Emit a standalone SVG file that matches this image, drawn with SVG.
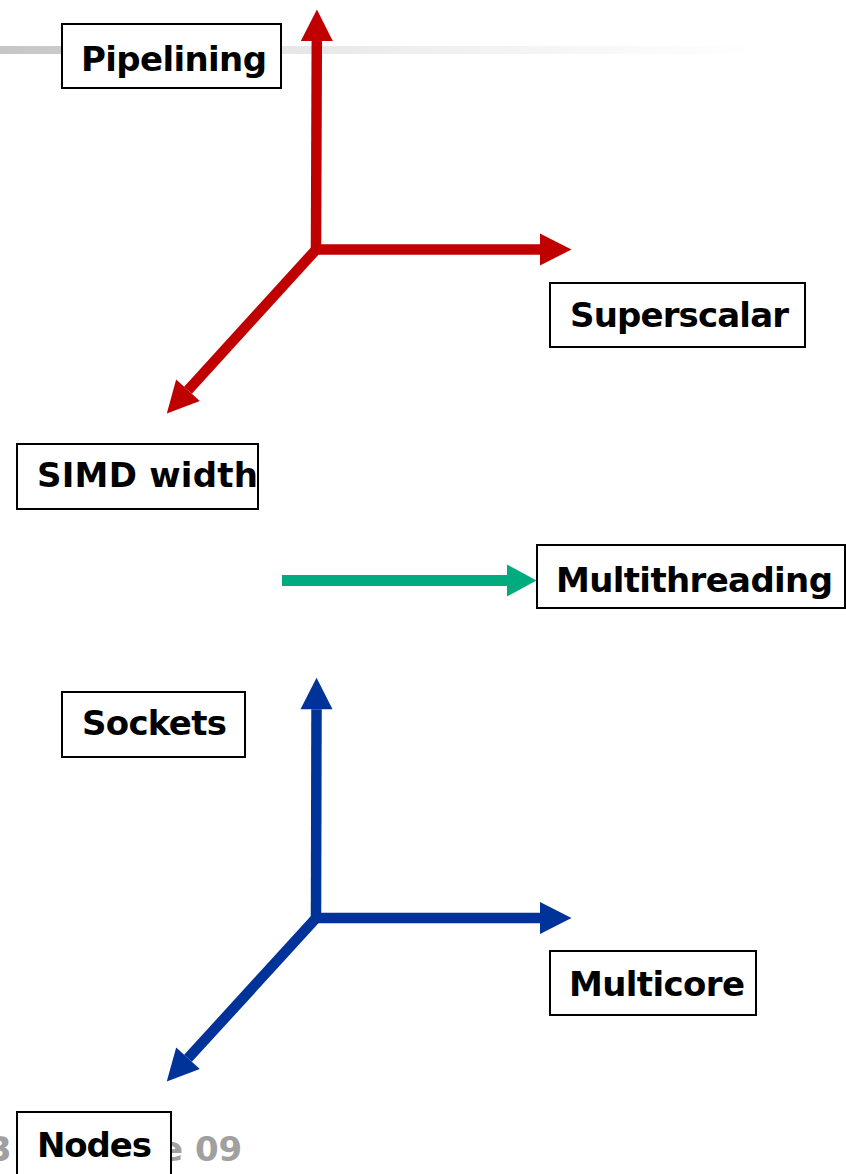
<svg xmlns="http://www.w3.org/2000/svg" width="846" height="1174" viewBox="0 0 846 1174">
<style>
.box{fill:#ffffff;stroke:#000000;stroke-width:2}
.lbl{font-family:"DejaVu Sans","Verdana",sans-serif;font-weight:bold;font-size:34px;fill:#000000}
.foot{font-family:"DejaVu Sans","Verdana",sans-serif;font-weight:bold;font-size:34px;fill:#a0a0a0}
.red{stroke:#c00000;stroke-width:10.5;fill:none;stroke-linejoin:miter}
.blue{stroke:#003399;stroke-width:10.5;fill:none;stroke-linejoin:miter}
.green{stroke:#00ac7f;stroke-width:11;fill:none}
</style>
<defs>
<linearGradient id="grayline" x1="0" y1="0" x2="760" y2="0" gradientUnits="userSpaceOnUse">
<stop offset="0" stop-color="#c6c6c6"/>
<stop offset="0.1" stop-color="#cbcbcb"/>
<stop offset="0.37" stop-color="#e6e6e6"/>
<stop offset="0.53" stop-color="#eeeeee"/>
<stop offset="0.8" stop-color="#f8f8f8"/>
<stop offset="1" stop-color="#ffffff"/>
</linearGradient>
<marker id="hRed" markerUnits="userSpaceOnUse" markerWidth="32" markerHeight="33" refX="0" refY="16" orient="auto" overflow="visible">
<path d="M0,0 L31.5,16 L0,32 z" fill="#c00000"/>
</marker>
<marker id="hBlue" markerUnits="userSpaceOnUse" markerWidth="32" markerHeight="33" refX="0" refY="16" orient="auto" overflow="visible">
<path d="M0,0 L31.5,16 L0,32 z" fill="#003399"/>
</marker>
<marker id="hGreen" markerUnits="userSpaceOnUse" markerWidth="32" markerHeight="33" refX="0" refY="16" orient="auto" overflow="visible">
<path d="M0,0 L29.5,16 L0,32 z" fill="#00ac7f"/>
</marker>
</defs>
<rect x="0" y="46" width="760" height="8" fill="url(#grayline)"/>
<text class="foot" x="-12" y="1161">3</text>
<text class="foot" x="160" y="1161">e 09</text>
<g id="connectors">
<path class="red" d="M316,249 L316.8,41" marker-end="url(#hRed)"/>
<path class="red" d="M311,249.5 L540,249.5" marker-end="url(#hRed)"/>
<path class="red" d="M318,247.5 L188,390.2" marker-end="url(#hRed)"/>
<path class="blue" d="M316,917.5 L316.5,709.3" marker-end="url(#hBlue)"/>
<path class="blue" d="M311,918 L540,918" marker-end="url(#hBlue)"/>
<path class="blue" d="M318,916 L188,1058.3" marker-end="url(#hBlue)"/>
<path class="green" d="M282,580.5 L507,580.5" marker-end="url(#hGreen)"/>
</g>
<g id="pipelining">
<rect class="box" x="62" y="24" width="219" height="64"/>
<text class="lbl" x="81" y="71" textLength="186" lengthAdjust="spacing">Pipelining</text>
</g>
<g id="superscalar">
<rect class="box" x="550" y="283" width="255" height="64"/>
<text class="lbl" x="570" y="327" textLength="219" lengthAdjust="spacing">Superscalar</text>
</g>
<g id="simd-width">
<rect class="box" x="17" y="444" width="241" height="65"/>
<text class="lbl" x="37" y="487" textLength="221" lengthAdjust="spacing">SIMD width</text>
</g>
<g id="multithreading">
<rect class="box" x="537" y="545" width="308" height="63"/>
<text class="lbl" x="556" y="592" textLength="277" lengthAdjust="spacing">Multithreading</text>
</g>
<g id="sockets">
<rect class="box" x="62" y="692" width="183" height="65"/>
<text class="lbl" x="82" y="735" textLength="145" lengthAdjust="spacing">Sockets</text>
</g>
<g id="multicore">
<rect class="box" x="550" y="951" width="206" height="64"/>
<text class="lbl" x="569" y="996" textLength="176" lengthAdjust="spacing">Multicore</text>
</g>
<g id="nodes">
<rect class="box" x="17" y="1112" width="154" height="70"/>
<text class="lbl" x="37" y="1157" textLength="115" lengthAdjust="spacing">Nodes</text>
</g>
</svg>
